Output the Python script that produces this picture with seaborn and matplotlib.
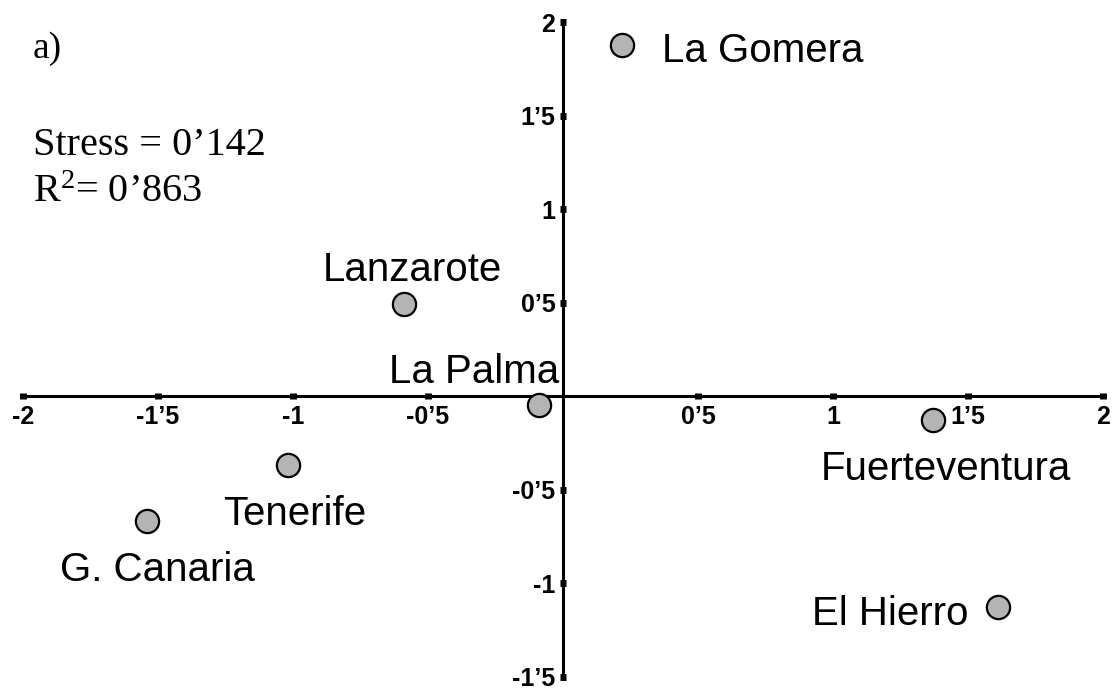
import matplotlib
matplotlib.use("Agg")
import matplotlib.pyplot as plt
import seaborn as sns
import pandas as pd

# MDS configuration of the islands (dimension 1, dimension 2)
islands = ["La Gomera", "Lanzarote", "La Palma", "Fuerteventura",
           "El Hierro", "Tenerife", "G. Canaria"]
dim1 = [0.22, -0.59, -0.09, 1.37, 1.61, -1.02, -1.54]
dim2 = [1.88, 0.49, -0.05, -0.13, -1.13, -0.37, -0.67]

x_ticks = [-2, -1.5, -1, -0.5, 0.5, 1, 1.5, 2]
x_tick_labels = ["-2", "-1\u20195", "-1", "-0\u20195", "0\u20195", "1", "1\u20195", "2"]
y_ticks = [-1.5, -1, -0.5, 0.5, 1, 1.5, 2]
y_tick_labels = ["-1\u20195", "-1", "-0\u20195", "0\u20195", "1", "1\u20195", "2"]

panel_tag = "a)"
fit_lines = ["Stress = 0\u2019142", "R$^{2}$= 0\u2019863"]

df = pd.DataFrame({"island": islands, "dim1": dim1, "dim2": dim2})

sns.set_style("white")
plt.rcParams["font.family"] = ["Liberation Sans", "DejaVu Sans"]
plt.rcParams["text.color"] = "black"
plt.rcParams["xtick.color"] = "black"
plt.rcParams["ytick.color"] = "black"
plt.rcParams["mathtext.fontset"] = "custom"
plt.rcParams["mathtext.rm"] = "Liberation Serif"
plt.rcParams["mathtext.it"] = "Liberation Serif"
plt.rcParams["mathtext.default"] = "rm"

fig = plt.figure(figsize=(11.16, 6.93), dpi=100)
ax = fig.add_axes([0, 0, 1, 1])

sns.scatterplot(data=df, x="dim1", y="dim2", ax=ax, s=280,
                color="#b4b4b4", edgecolor="black", linewidth=1.6, zorder=5)

ax.set_xlim(-2.085, 2.048)
ax.set_ylim(-1.588, 2.118)

# axes crossing at the origin
for side in ("top", "right"):
    ax.spines[side].set_visible(False)
ax.spines["bottom"].set_position("zero")
ax.spines["left"].set_position("zero")
ax.spines["bottom"].set_bounds(-2, 2)
ax.spines["left"].set_bounds(-1.5, 2)
for side in ("bottom", "left"):
    ax.spines[side].set_linewidth(2.2)
    ax.spines[side].set_color("black")

ax.set_xticks(x_ticks)
ax.set_xticklabels(x_tick_labels, fontweight="bold")
ax.set_yticks(y_ticks)
ax.set_yticklabels(y_tick_labels, fontweight="bold")
ax.tick_params(axis="both", bottom=True, left=True, direction="inout",
               length=5, width=5, color="black", labelcolor="black",
               labelsize=18)
ax.tick_params(axis="x", pad=4)
ax.tick_params(axis="y", pad=3)
ax.set_xlabel("")
ax.set_ylabel("")

# point labels: offsets in pixels from each marker, alignment
label_offsets = {
    "La Gomera": (40, -17, "left"),
    "Lanzarote": (9, 23, "center"),
    "La Palma": (-65, 22, "center"),
    "Fuerteventura": (13, -60, "center"),
    "El Hierro": (-29, -18, "right"),
    "Tenerife": (7, -60, "center"),
    "G. Canaria": (10, -60, "center"),
}
for name, x, y in zip(islands, dim1, dim2):
    dx, dy, ha = label_offsets[name]
    ax.annotate(name, (x, y), xytext=(dx, dy), textcoords="offset pixels",
                ha=ha, va="baseline", fontsize=29, color="black")

serif = ["Liberation Serif", "DejaVu Serif"]
fig.text(33 / 1116, 1 - 58 / 693, panel_tag, family=serif, fontsize=27,
         ha="left", va="baseline", color="black")
fig.text(33 / 1116, 1 - 155 / 693, fit_lines[0], family=serif, fontsize=29,
         ha="left", va="baseline", color="black")
fig.text(33 / 1116, 1 - 202 / 693, fit_lines[1], family=serif, fontsize=29,
         ha="left", va="baseline", color="black")

fig.savefig("out.png", dpi=100, facecolor="white")
